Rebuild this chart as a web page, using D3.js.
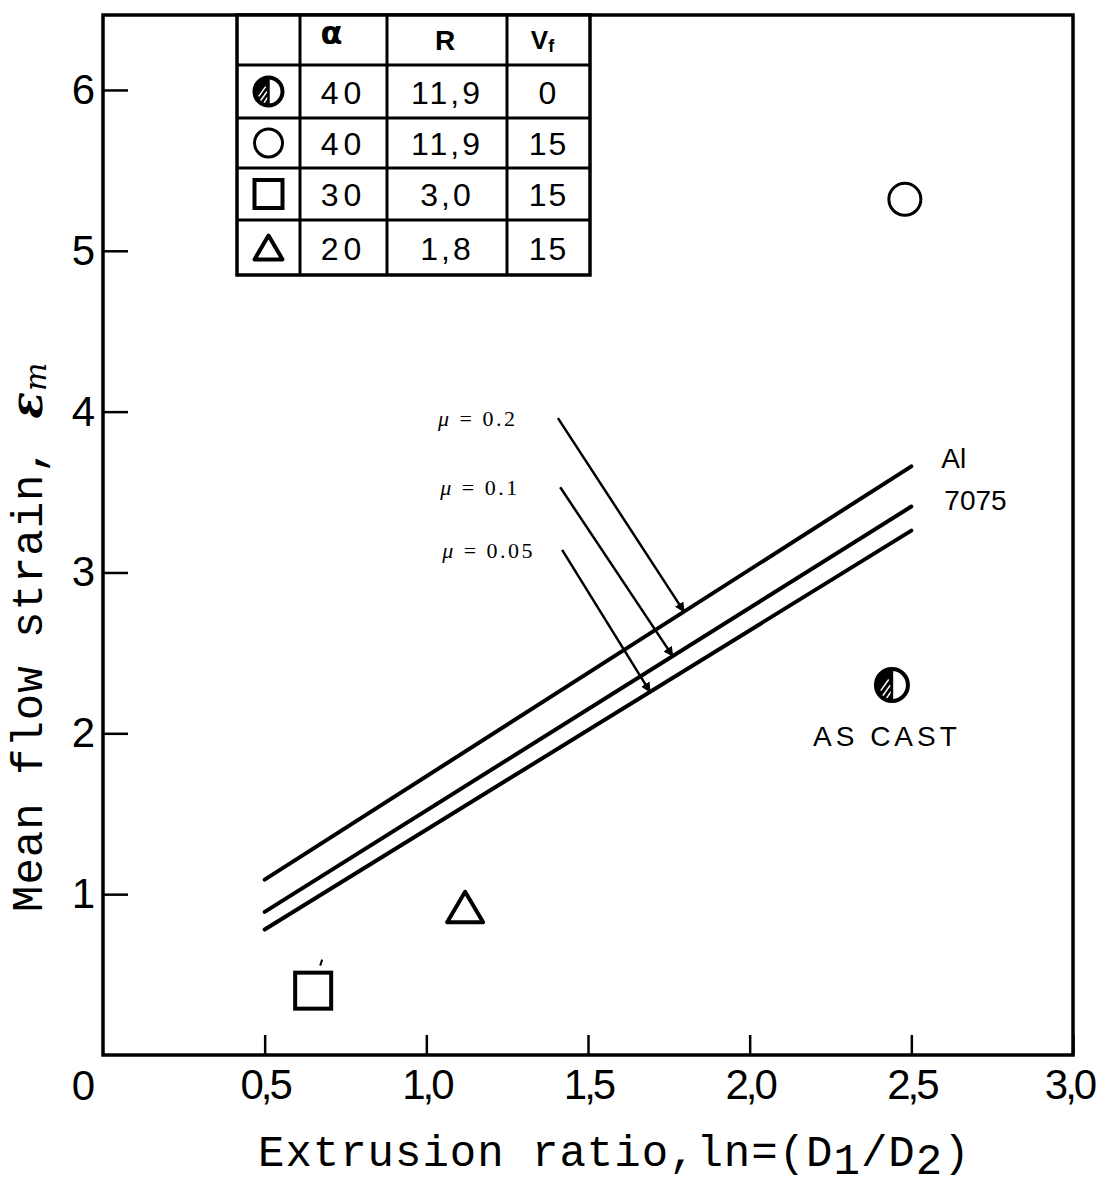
<!DOCTYPE html>
<html><head><meta charset="utf-8">
<script src="https://cdn.jsdelivr.net/npm/d3@7"></script>
<style>body{margin:0;background:#fff}</style>
</head><body>
<svg id="c" width="1098" height="1190"></svg>
<script>
// ---------- data ----------
const xTicks = [0.5, 1.0, 1.5, 2.0, 2.5, 3.0];
const yTicks = [0, 1, 2, 3, 4, 5, 6];
const lineX = [0.5, 2.5];
const mu02Y = [1.09, 3.66];
const mu01Y = [0.89, 3.41];
const mu005Y = [0.78, 3.26];
const muLabels = ["μ = 0.2", "μ = 0.1", "μ = 0.05"];
const leaderStartX = [1.407, 1.414, 1.420];
const leaderStartY = [3.96, 3.53, 3.14];
const leaderEndX = [1.797, 1.762, 1.692];
const pointKind = ["half", "circle", "square", "triangle"];
const pointX = [2.44, 2.48, 0.65, 1.12];
const pointY = [2.30, 5.32, 0.40, 0.92];
const tableHeader = ["", "α", "R", "V"];
const tableAlpha = ["40", "40", "30", "20"];
const tableR = ["11,9", "11,9", "3,0", "1,8"];
const tableVf = ["0", "15", "15", "15"];

// ---------- layout ----------
const svg = d3.select("#c");
const x = d3.scaleLinear().domain([0, 3]).range([103, 1073]);
const y = d3.scaleLinear().domain([0, 6.466]).range([1055, 15]);
const sans = "'Liberation Sans', Arial, sans-serif";
const mono = "'Liberation Mono', 'DejaVu Sans Mono', monospace";

svg.append("defs").append("marker")
  .attr("id", "arr").attr("viewBox", "0 0 10 10").attr("refX", 9).attr("refY", 5)
  .attr("markerWidth", 4).attr("markerHeight", 4).attr("orient", "auto")
  .append("path").attr("d", "M0,0 L10,5 L0,10 Z").attr("fill", "#000");

// frame
svg.append("rect").attr("x", x(0)).attr("y", y(6.466))
  .attr("width", x(3) - x(0)).attr("height", y(0) - y(6.466))
  .attr("fill", "none").attr("stroke", "#000").attr("stroke-width", 3.5);

// x axis
const gx = svg.append("g").attr("transform", `translate(0,${y(0)})`)
  .call(d3.axisBottom(x).tickValues(xTicks).tickSize(-20).tickPadding(14)
    .tickFormat(d => d3.format(".1f")(d).replace(".", ",")));
gx.select(".domain").remove();
gx.selectAll("line").attr("stroke-width", 2.5);
gx.selectAll("text").attr("font-family", sans).attr("font-size", 42)
  .attr("letter-spacing", -3).attr("fill", "#000");
gx.selectAll(".tick").filter(d => d === 3).select("text").attr("dx", -4);

// y axis
const gy = svg.append("g").attr("transform", `translate(${x(0)},0)`)
  .call(d3.axisLeft(y).tickValues(yTicks).tickSize(-25).tickPadding(8).tickFormat(d => d));
gy.select(".domain").remove();
gy.selectAll("line").attr("stroke-width", 2.5);
gy.selectAll(".tick").filter(d => d === 0).select("line").remove();
gy.selectAll("text").attr("font-family", sans).attr("font-size", 42).attr("fill", "#000");
gy.selectAll(".tick").filter(d => d === 0).select("text").attr("dy", "1.05em");

// axis titles
const xt = svg.append("text").attr("x", 258).attr("y", 1166)
  .attr("font-family", mono).attr("font-size", 44).attr("letter-spacing", 1).attr("fill", "#000");
xt.append("tspan").text("Extrusion ratio,ln=(D");
xt.append("tspan").attr("dy", 8).text("1");
xt.append("tspan").attr("dy", -8).text("/D");
xt.append("tspan").attr("dy", 8).text("2");
xt.append("tspan").attr("dy", -8).text(")");

const yt = svg.append("text").attr("transform", "translate(42,912) rotate(-90)")
  .attr("font-family", mono).attr("font-size", 44).attr("letter-spacing", 1).attr("fill", "#000");
yt.append("tspan").text("Mean flow strain, ");
yt.append("tspan").attr("font-family", "'DejaVu Serif', serif").attr("font-style", "italic").attr("font-weight", "bold").text("ε");
yt.append("tspan").attr("font-size", 30).attr("font-family", "'DejaVu Serif', serif").attr("font-style", "italic").attr("dy", 4).text("m");

// strain lines
const lines = [mu02Y, mu01Y, mu005Y];
const lineGen = d3.line().x(d => x(d[0])).y(d => y(d[1]));
lines.forEach(ys => {
  svg.append("path").attr("d", lineGen(lineX.map((v, i) => [v, ys[i]])))
    .attr("fill", "none").attr("stroke", "#000").attr("stroke-width", 4).attr("stroke-linecap", "round");
});

// leaders and labels
lines.forEach((ys, i) => {
  const ex = leaderEndX[i];
  const ey = ys[0] + (ys[1] - ys[0]) * (ex - lineX[0]) / (lineX[1] - lineX[0]);
  svg.append("line").attr("x1", x(leaderStartX[i])).attr("y1", y(leaderStartY[i]))
    .attr("x2", x(ex)).attr("y2", y(ey)).attr("stroke", "#000").attr("stroke-width", 2.5)
    .attr("marker-end", "url(#arr)");
  const lt = svg.append("text").attr("x", x(leaderStartX[i]) - 120).attr("y", y(leaderStartY[i]) + 8)
    .attr("font-family", "'Liberation Serif', serif").attr("font-size", 22)
    .attr("letter-spacing", 2.5).attr("fill", "#000");
  lt.append("tspan").attr("font-style", "italic").text(muLabels[i].slice(0, 1));
  lt.append("tspan").text(muLabels[i].slice(1));
});

// Al 7075
svg.append("text").attr("x", x(lineX[1]) + 30).attr("y", y(mu02Y[1]) + 2)
  .attr("font-family", sans).attr("font-size", 28).attr("fill", "#000").text("Al");
svg.append("text").attr("x", x(lineX[1]) + 33).attr("y", y(mu02Y[1]) + 44)
  .attr("font-family", sans).attr("font-size", 28).attr("fill", "#000").text("7075");

// symbols
function drawSymbol(g, kind, cx, cy, s) {
  if (kind === "half") {
    g.append("path").attr("d", `M${cx},${cy - s} A${s},${s} 0 0 0 ${cx},${cy + s} Z`).attr("fill", "#000");
    [[-0.7, 0.35, -0.2, -0.35], [-0.6, 0.7, -0.1, 0.0], [-0.35, 0.85, -0.05, 0.4]].forEach(h => {
      g.append("line").attr("x1", cx + h[0] * s).attr("y1", cy + h[1] * s)
        .attr("x2", cx + h[2] * s).attr("y2", cy + h[3] * s)
        .attr("stroke", "#fff").attr("stroke-width", 1.5);
    });
    g.append("circle").attr("cx", cx).attr("cy", cy).attr("r", s)
      .attr("fill", "none").attr("stroke", "#000").attr("stroke-width", 4);
    g.append("line").attr("x1", cx).attr("y1", cy - s).attr("x2", cx).attr("y2", cy + s)
      .attr("stroke", "#000").attr("stroke-width", 2.5);
  } else if (kind === "circle") {
    g.append("circle").attr("cx", cx).attr("cy", cy).attr("r", s)
      .attr("fill", "none").attr("stroke", "#000").attr("stroke-width", 3);
  } else if (kind === "square") {
    g.append("rect").attr("x", cx - s).attr("y", cy - s).attr("width", 2 * s).attr("height", 2 * s)
      .attr("fill", "none").attr("stroke", "#000").attr("stroke-width", 4);
  } else {
    const h = s * 1.7;
    g.append("path").attr("d", `M${cx},${cy - h / 2} L${cx + s},${cy + h / 2} L${cx - s},${cy + h / 2} Z`)
      .attr("fill", "none").attr("stroke", "#000").attr("stroke-width", 4).attr("stroke-linejoin", "round");
  }
}
const pointSize = {half: 16, circle: 16, square: 18, triangle: 18};
pointKind.forEach((k, i) => drawSymbol(svg.append("g"), k, x(pointX[i]), y(pointY[i]), pointSize[k]));
svg.append("line").attr("x1", x(pointX[2]) + 7).attr("y1", y(pointY[2]) - 25)
  .attr("x2", x(pointX[2]) + 9).attr("y2", y(pointY[2]) - 31).attr("stroke", "#000").attr("stroke-width", 2);

// AS CAST
svg.append("text").attr("x", x(pointX[0]) - 5).attr("y", y(pointY[0]) + 61)
  .attr("text-anchor", "middle").attr("font-family", sans).attr("font-size", 28)
  .attr("letter-spacing", 4).attr("fill", "#000").text("AS CAST");

// table
const cols = [237, 300, 387, 507, 590];
const rows = [15, 65, 118, 168, 220, 275];
const tg = svg.append("g");
tg.append("rect").attr("x", cols[0]).attr("y", rows[0]).attr("width", cols[4] - cols[0])
  .attr("height", rows[5] - rows[0]).attr("fill", "#fff").attr("stroke", "#000").attr("stroke-width", 3.5);
cols.slice(1, 4).forEach(c => tg.append("line").attr("x1", c).attr("x2", c).attr("y1", rows[0]).attr("y2", rows[5])
  .attr("stroke", "#000").attr("stroke-width", 3));
rows.slice(1, 5).forEach(r => tg.append("line").attr("x1", cols[0]).attr("x2", cols[4]).attr("y1", r).attr("y2", r)
  .attr("stroke", "#000").attr("stroke-width", 3));
const cmid = i => (cols[i] + cols[i + 1]) / 2;
const rmid = i => (rows[i] + rows[i + 1]) / 2;
// header
tg.append("text").attr("x", cmid(1) - 12).attr("y", rmid(0) + 4).attr("text-anchor", "middle")
  .attr("font-family", "'DejaVu Sans', sans-serif").attr("font-size", 32).attr("font-weight", "bold").text(tableHeader[1]);
tg.append("text").attr("x", cmid(2) - 2).attr("y", rmid(0) + 10).attr("text-anchor", "middle")
  .attr("font-family", sans).attr("font-size", 28).attr("font-weight", "bold").text(tableHeader[2]);
const vt = tg.append("text").attr("x", cmid(3) - 6).attr("y", rmid(0) + 9).attr("text-anchor", "middle")
  .attr("font-family", sans).attr("font-size", 26).attr("font-weight", "bold");
vt.append("tspan").text(tableHeader[3]);
vt.append("tspan").attr("font-size", 18).attr("dx", 0).attr("dy", 3).text("f");
const rowKinds = ["half", "circle", "square", "triangle"];
rowKinds.forEach((k, i) => {
  const cy = rmid(i + 1);
  drawSymbol(tg.append("g"), k, cmid(0), cy, 14);
  [[tableAlpha[i], 1, 5], [tableR[i], 2, 3], [tableVf[i], 3, 2]].forEach(([t, c, ls]) => {
    tg.append("text").attr("x", cmid(c)).attr("y", cy + 12).attr("text-anchor", "middle")
      .attr("font-family", sans).attr("font-size", 32).attr("letter-spacing", ls)
      .attr("fill", "#000").text(t);
  });
});
</script>
</body></html>
